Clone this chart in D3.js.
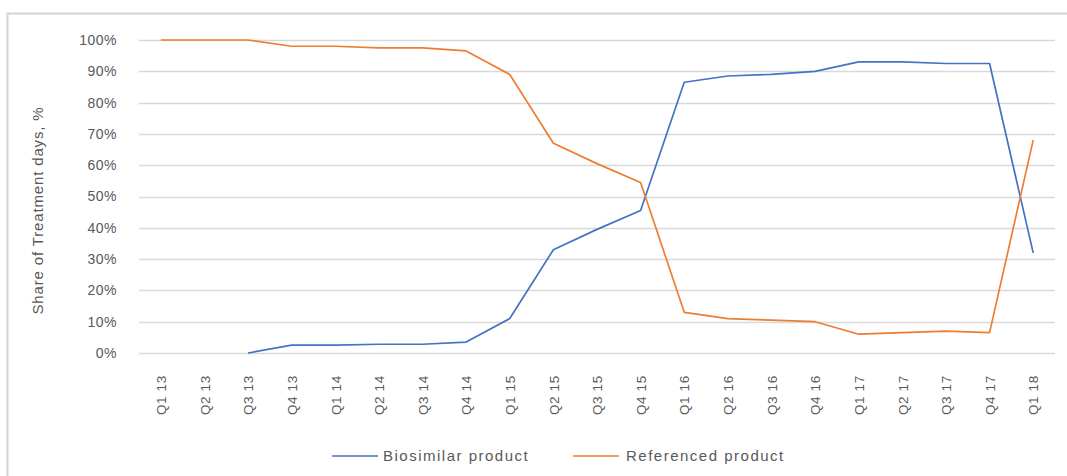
<!DOCTYPE html>
<html>
<head>
<meta charset="utf-8">
<script src="https://cdn.jsdelivr.net/npm/d3@7"></script>
<style>
  html, body { margin: 0; padding: 0; background: #fff; }
  svg text { font-family: "Liberation Sans", Arial, sans-serif; fill: #595959; }
</style>
</head>
<body>
<svg id="chart" width="1067" height="476"></svg>
<script>
const categories = ["Q1 13","Q2 13","Q3 13","Q4 13","Q1 14","Q2 14","Q3 14","Q4 14",
  "Q1 15","Q2 15","Q3 15","Q4 15","Q1 16","Q2 16","Q3 16","Q4 16",
  "Q1 17","Q2 17","Q3 17","Q4 17","Q1 18"];
const biosimilar = [null,null,0,2.5,2.5,2.8,2.8,3.5,11,33,39.5,45.5,86.5,88.5,89,90,93,93,92.5,92.5,32];
const referenced = [100,100,100,98,98,97.5,97.5,96.5,89,67,60.5,54.5,13,11,10.5,10,6,6.5,7,6.5,68];
const yTicks = [0,10,20,30,40,50,60,70,80,90,100];
const seriesNames = ["Biosimilar product","Referenced product"];
const seriesColors = ["#4472C4","#ED7D31"];

const svg = d3.select("#chart");
const W = 1067, H = 476;
const plot = {left: 139, right: 1055, top: 40, bottom: 353};
const FONT = '"Liberation Sans", Arial, sans-serif';

// outer border
svg.append("rect").attr("x", 7.5).attr("y", 13.5).attr("width", W + 10).attr("height", H + 10)
  .attr("fill", "none").attr("stroke", "#d4d4d4").attr("stroke-width", 2);

const x = d3.scalePoint().domain(categories).range([plot.left, plot.right]).padding(0.5);
const y = d3.scaleLinear().domain([0, 100]).range([plot.bottom, plot.top]);

// gridlines
svg.append("g").selectAll("line").data(yTicks).join("line")
  .attr("x1", plot.left).attr("x2", plot.right)
  .attr("y1", d => Math.round(y(d)) + 0.5).attr("y2", d => Math.round(y(d)) + 0.5)
  .attr("stroke", "#d9d9d9").attr("stroke-width", 1.5);

// y axis labels
const yAxis = d3.axisLeft(y).tickValues(yTicks).tickFormat(d => d + "%").tickSize(0).tickPadding(0);
const gy = svg.append("g").attr("transform", `translate(${plot.left - 22},0)`).call(yAxis);
gy.select(".domain").remove();
gy.selectAll("text").attr("font-size", 14).attr("letter-spacing", 0.5)
  .style("font-family", FONT).attr("fill", "#595959");

// x axis labels
const xAxis = d3.axisBottom(x).tickSize(0).tickPadding(0);
const gx = svg.append("g").attr("transform", `translate(0,${plot.bottom})`).call(xAxis);
gx.select(".domain").remove();
gx.selectAll("text")
  .attr("transform", "rotate(-90)")
  .attr("x", -62).attr("y", 0).attr("dy", "0.35em")
  .attr("text-anchor", "start")
  .attr("font-size", 13.5).attr("letter-spacing", 0.6)
  .style("font-family", FONT).attr("fill", "#595959");

// y axis title
svg.append("text")
  .attr("transform", `translate(43,${(plot.top + plot.bottom) / 2 + 14}) rotate(-90)`)
  .attr("text-anchor", "middle")
  .attr("font-size", 15).attr("letter-spacing", 0.85)
  .text("Share of Treatment days, %");

// lines
const line = d3.line()
  .defined(d => d.v !== null)
  .x(d => x(d.c)).y(d => y(d.v));
const allSeries = [biosimilar, referenced];
allSeries.forEach((vals, i) => {
  svg.append("path")
    .datum(categories.map((c, j) => ({c, v: vals[j]})))
    .attr("fill", "none").attr("stroke", seriesColors[i]).attr("stroke-width", 1.7)
    .attr("stroke-linejoin", "round")
    .attr("d", line);
});

// legend
const legendX = [332, 573];
seriesNames.forEach((name, i) => {
  const g = svg.append("g").attr("transform", `translate(${legendX[i]},456)`);
  g.append("line").attr("x1", 0).attr("x2", 46).attr("y1", 0).attr("y2", 0)
    .attr("stroke", seriesColors[i]).attr("stroke-width", 1.7);
  g.append("text").attr("x", i === 0 ? 51 : 53).attr("dy", "0.35em").attr("font-size", 15)
    .attr("letter-spacing", 1.5).text(name);
});
</script>
</body>
</html>
